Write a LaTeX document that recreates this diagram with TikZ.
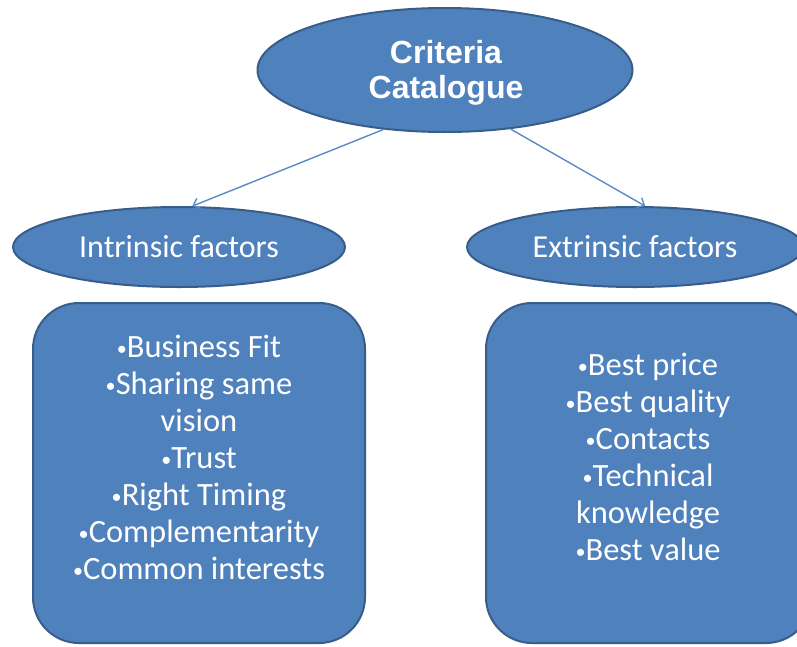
\documentclass[tikz,border=0pt]{standalone}
\usepackage{graphicx}
\usepackage{fontspec}
\setmainfont{Carlito}
\newfontfamily\titlefont{Liberation Sans}
\usetikzlibrary{shapes.geometric,arrows.meta}
\definecolor{boxfill}{HTML}{4F81BD}
\definecolor{boxline}{HTML}{385D8A}
\definecolor{linkblue}{HTML}{5A8AC6}
% small list bullet
\newcommand\lbul{\raisebox{0.12ex}{\scalebox{0.62}{•}}}
\tikzset{
  blob/.style={ellipse, fill=boxfill, draw=boxline, line width=2pt, inner sep=0pt, text=white},
  panel/.style={rectangle, rounded corners=46pt, fill=boxfill, draw=boxline, line width=2pt, inner sep=0pt},
  listtext/.style={text=white, align=center, font=\fontsize{32.5}{37}\selectfont, inner sep=0pt},
  link/.style={draw=linkblue, line width=1.4pt, -{Straight Barb[length=6pt,width=11pt]}},
}
\begin{document}
\begin{tikzpicture}[x=1pt,y=-1pt]
  \useasboundingbox (0,0) rectangle (797,646);
  \clip (0,0) rectangle (797,646);

  % central criteria ellipse
  \node[blob, minimum width=375pt, minimum height=124pt] (top) at (445,70) {};
  \node[text=white, align=center, inner sep=0pt,
        font=\titlefont\bfseries\fontsize{32}{35}\selectfont]
        (title) at (446,73) {Criteria\\Catalogue};

  % the two factor groups
  \node[blob, minimum width=332pt, minimum height=80pt,
        font=\fontsize{32}{37}\selectfont] (intr) at (179,247) {Intrinsic factors};
  \node[blob, minimum width=336pt, minimum height=80pt,
        font=\fontsize{32}{37}\selectfont] (extr) at (635,247) {Extrinsic factors};

  % arrows from the catalogue to each group
  \draw[link] (top.224) -- (intr.72);
  \draw[link] (top.318.6) -- (extr.76);

  % rounded panels holding the criteria lists
  \node[panel, minimum width=332pt, minimum height=340pt] (lbox) at (199,473) {};
  \node[panel, minimum width=326pt, minimum height=340pt] (rbox) at (649,473) {};

  \node[listtext] (ltext) at (199,457.5)
    {\lbul Business Fit\\\lbul Sharing same\\vision\\\lbul Trust\\\lbul Right Timing\\\lbul Complementarity\\\lbul Common interests};
  \node[listtext] (rtext) at (648,457)
    {\lbul Best price\\\lbul Best quality\\\lbul Contacts\\\lbul Technical\\knowledge\\\lbul Best value};
\end{tikzpicture}
\end{document}
